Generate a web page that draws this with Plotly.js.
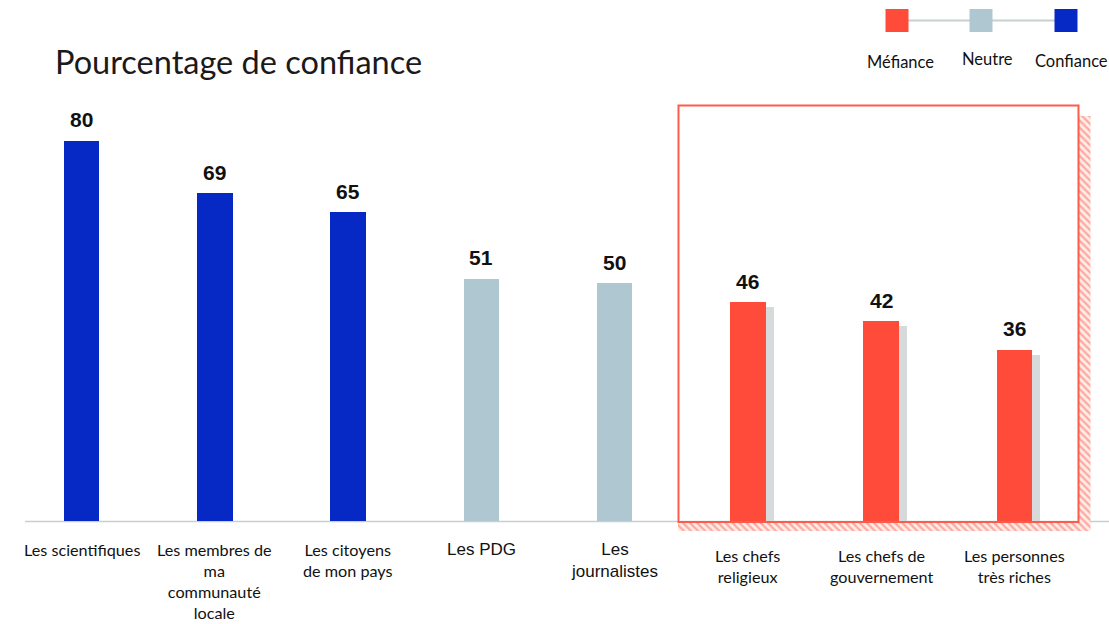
<!DOCTYPE html>
<html>
<head>
<meta charset="utf-8">
<script src="https://cdn.plot.ly/plotly-3.0.1.min.js"></script>
<style>html,body{margin:0;padding:0;background:#fff;}#chart{width:1109px;height:624px;}</style>
</head>
<body>
<div id="chart"></div>
<script>
// ---- data ----
const categories = [
  "Les scientifiques",
  "Les membres de<br>ma<br>communauté<br>locale",
  "Les citoyens<br>de mon pays",
  "Les PDG",
  "Les<br>journalistes",
  "Les chefs<br>religieux",
  "Les chefs de<br>gouvernement",
  "Les personnes<br>très riches"
];
const values = [80, 69, 65, 51, 50, 46, 42, 36];
const levels = ["Confiance","Confiance","Confiance","Neutre","Neutre","Méfiance","Méfiance","Méfiance"];
const legendLabels = ["Méfiance", "Neutre", "Confiance"];
const titleText = "Pourcentage de confiance";

// ---- styles ----
const levelColor = {"Confiance": "#0628C4", "Neutre": "#AEC7D1", "Méfiance": "#FF4B39"};
const shadowColor = "#D6DADA";
const arialLabelIdx = [3, 4];   // labels drawn in Arial in the original
const W = 1109, H = 624, L = 15, R = 12, T = 60, B = 89;
const pw = W - L - R, ph = H - T - B;
const yMin = -3, yMax = 97, xMin = -0.5, xMax = 7.62;
const px = x => (x - L) / pw;          // pixel -> paper x
const py = y => (H - B - y) / ph;      // pixel -> paper y
const dx = x => xMin + (x - L) / pw * (xMax - xMin); // pixel -> data x
const dy = y => yMin + (H - B - y) / ph * (yMax - yMin); // pixel -> data y
const barW = 0.266;

const idx = categories.map((_, i) => i);
const redIdx = idx.filter(i => levels[i] === "Méfiance");

const traces = [];
// hatched shadow of the highlight box
const hx = [678, 1079, 1079, 1090.5, 1090.5, 678, 678].map(dx);
const hy = [522, 522, 116, 116, 531, 531, 522].map(dy);
traces.push({type: "scatter", mode: "none", x: hx, y: hy, fill: "toself",
  fillcolor: "rgba(0,0,0,0)",
  fillpattern: {shape: "\\", fgcolor: "#FFA89E", bgcolor: "#FFEDEA", size: 5, solidity: 0.45},
  hoverinfo: "skip", showlegend: false});
// drop shadows of the red bars
traces.push({type: "bar", x: redIdx, y: redIdx.map(i => values[i] - 1.05),
  width: barW, offset: -barW / 2 + 0.062, marker: {color: shadowColor},
  hoverinfo: "skip", showlegend: false});
// main bars
traces.push({type: "bar", x: idx, y: values, width: barW, offset: -barW / 2,
  marker: {color: levels.map(l => levelColor[l]), line: {width: 0}},
  showlegend: false});

const annotations = [];
annotations.push({xref: "paper", yref: "paper", x: px(53), y: py(62), xanchor: "left", yanchor: "middle",
  text: titleText, showarrow: false, font: {family: "Lato, sans-serif", size: 32.5, color: "#1a1a1a"}});
values.forEach((v, i) => annotations.push({xref: "x", yref: "y", x: i, y: v, xanchor: "center", yanchor: "bottom",
  yshift: 7.5, text: "<b>" + v + "</b>", showarrow: false,
  font: {family: "Liberation Sans, Arial, sans-serif", size: 21, color: "#111"}}));
categories.forEach((c, i) => {
  const arial = arialLabelIdx.includes(i);
  const inBox = levels[i] === "Méfiance";
  annotations.push({xref: "x", yref: "paper", x: i, y: py(arial ? 538 : (inBox ? 544 : 537.5)), xanchor: "center", yanchor: "top",
    text: c, showarrow: false, align: "center",
    font: arial ? {family: "Liberation Sans, Arial, sans-serif", size: 17, color: "#111"}
                : {family: "Lato, sans-serif", size: 16.2, color: "#111"}});
});
// legend labels
const legX = [897, 981, 1066];
const legColors = [levelColor["Méfiance"], levelColor["Neutre"], levelColor["Confiance"]];
const legLabelX = [900, 988, 1071];
const legLabelY = [62, 59, 61];
legendLabels.forEach((t, i) => annotations.push({xref: "paper", yref: "paper", x: px(legLabelX[i]), y: py(legLabelY[i]),
  xanchor: "center", yanchor: "middle", text: t, showarrow: false,
  font: {family: "Lato, sans-serif", size: 16.5, color: "#111"}}));

const shapes = [];
// baseline
shapes.push({type: "line", xref: "paper", yref: "paper", x0: px(25), x1: px(1110), y0: py(521.5), y1: py(521.5),
  line: {color: "#C9CDCD", width: 1.5}, layer: "below"});
// highlight box
shapes.push({type: "rect", xref: "paper", yref: "paper", x0: px(678.5), x1: px(1078.5), y0: py(522), y1: py(105.5),
  line: {color: "#FF5A4A", width: 2}, fillcolor: "rgba(0,0,0,0)"});
// legend connector + squares
shapes.push({type: "line", xref: "paper", yref: "paper", x0: px(legX[0]), x1: px(legX[2]), y0: py(20.5), y1: py(20.5),
  line: {color: "#C8D0D0", width: 2}});
legX.forEach((x, i) => shapes.push({type: "rect", xref: "paper", yref: "paper",
  x0: px(x - 11.5), x1: px(x + 11.5), y0: py(32), y1: py(9),
  line: {width: 0}, fillcolor: legColors[i]}));

const layout = {
  width: W, height: H,
  margin: {l: L, r: R, t: T, b: B, pad: 0},
  paper_bgcolor: "#fff", plot_bgcolor: "#fff",
  barmode: "overlay", bargap: 0,
  showlegend: false,
  xaxis: {range: [xMin, xMax], showticklabels: false, showgrid: false, zeroline: false, showline: false, ticks: "", fixedrange: true},
  yaxis: {range: [yMin, yMax], showticklabels: false, showgrid: false, zeroline: false, showline: false, ticks: "", fixedrange: true},
  annotations: annotations,
  shapes: shapes
};
Plotly.newPlot("chart", traces, layout, {displayModeBar: false, staticPlot: true});
</script>
</body>
</html>
